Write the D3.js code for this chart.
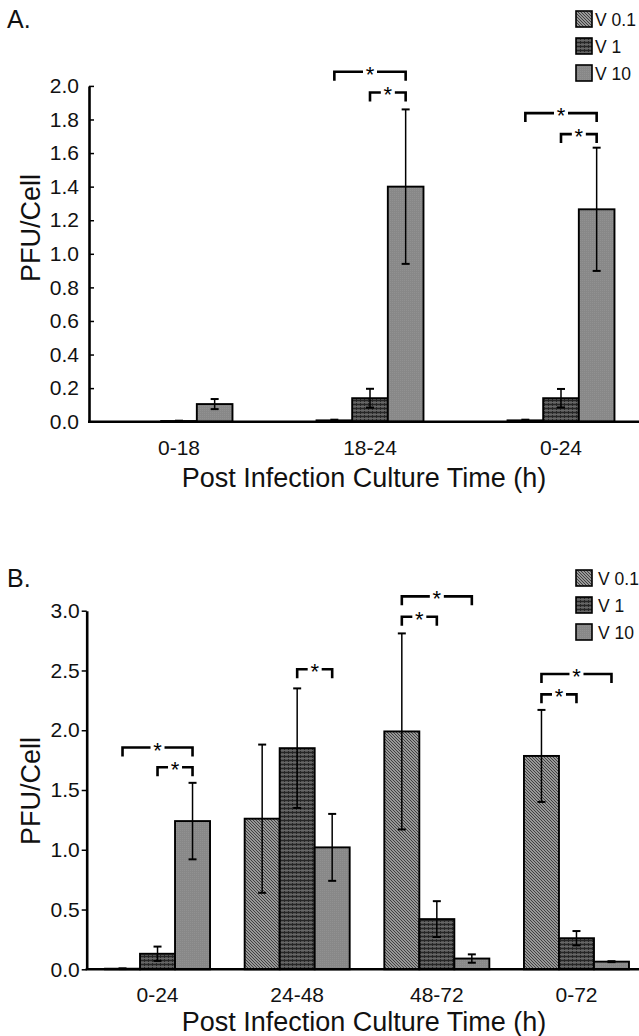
<!DOCTYPE html>
<html>
<head>
<meta charset="utf-8">
<script src="https://cdn.jsdelivr.net/npm/d3@7"></script>
<style>
  body { margin: 0; background: #fff; }
  svg { display: block; font-family: "Liberation Sans", Arial, sans-serif; }
</style>
</head>
<body>
<svg id="chart" width="639" height="1036"></svg>
<script>
// series names (legend)
var seriesNames = ["V 0.1", "V 1", "V 10"];

// panel A
var catsA = ["0-18", "18-24", "0-24"];
var meanA_v01 = [0, 0.008, 0.008];
var meanA_v1 = [0.004, 0.14, 0.14];
var meanA_v10 = [0.105, 1.40, 1.265];
var errA_v01 = [0, 0.004, 0.004];
var errA_v1 = [0.002, 0.056, 0.055];
var errA_v10 = [0.03, 0.46, 0.367];
var ticksA = [0, 0.2, 0.4, 0.6, 0.8, 1.0, 1.2, 1.4, 1.6, 1.8, 2.0];
// significance brackets: category, from series, to series, height (PFU/Cell)
var starsA = [
  ["18-24", 0, 2, 2.084], ["18-24", 1, 2, 1.961],
  ["0-24", 0, 2, 1.838], ["0-24", 1, 2, 1.713]
];

// panel B
var catsB = ["0-24", "24-48", "48-72", "0-72"];
var meanB_v01 = [0.005, 1.26, 1.99, 1.785];
var meanB_v1 = [0.13, 1.85, 0.42, 0.26];
var meanB_v10 = [1.24, 1.02, 0.09, 0.064];
var errB_v01 = [0.003, 0.62, 0.82, 0.385];
var errB_v1 = [0.06, 0.50, 0.15, 0.06];
var errB_v10 = [0.32, 0.28, 0.035, 0.004];
var ticksB = [0, 0.5, 1.0, 1.5, 2.0, 2.5, 3.0];
var starsB = [
  ["0-24", 0, 2, 1.855], ["0-24", 1, 2, 1.69],
  ["24-48", 1, 2, 2.51],
  ["48-72", 0, 2, 3.12], ["48-72", 0, 1, 2.95],
  ["0-72", 0, 2, 2.47], ["0-72", 0, 1, 2.30]
];

var svg = d3.select("#chart");
var defs = svg.append("defs");

// fill patterns
var p1 = defs.append("pattern").attr("id", "pat0")
    .attr("patternUnits", "userSpaceOnUse").attr("width", 3).attr("height", 3);
p1.append("rect").attr("width", 3).attr("height", 3).attr("fill", "#bdbdbd");
p1.append("path").attr("d", "M0,0L3,3M-1,2L1,4M2,-1L4,1")
    .attr("stroke", "#3a3a3a").attr("stroke-width", 1.1);

var p2 = defs.append("pattern").attr("id", "pat1")
    .attr("patternUnits", "userSpaceOnUse").attr("width", 4).attr("height", 4);
p2.append("rect").attr("width", 4).attr("height", 4).attr("fill", "#535353");
p2.append("path").attr("d", "M0,0.5H4M0.5,0V4")
    .attr("stroke", "#262626").attr("stroke-width", 1);
p2.append("path").attr("d", "M0,2.5H4")
    .attr("stroke", "#666").attr("stroke-width", 1);

var p3 = defs.append("pattern").attr("id", "pat2")
    .attr("patternUnits", "userSpaceOnUse").attr("width", 2).attr("height", 2);
p3.append("rect").attr("width", 2).attr("height", 2).attr("fill", "#888");
p3.append("rect").attr("width", 1).attr("height", 1).attr("fill", "#919191");

function drawPanel(cfg) {
  var g = svg.append("g");

  var x0 = d3.scaleBand().domain(cfg.cats).range(cfg.xRange)
      .paddingInner(cfg.pad).paddingOuter(cfg.pad / 2);
  var x1 = d3.scaleBand().domain([0, 1, 2]).range([0, x0.bandwidth()]);
  var y = d3.scaleLinear().domain([0, cfg.yMax]).range([cfg.base, cfg.top]);

  function cx(cat, s) { return x0(cat) + x1(s) + x1.bandwidth() / 2; }

  // bars
  cfg.means.forEach(function(vals, s) {
    g.append("g").selectAll("rect").data(vals).enter().append("rect")
      .attr("x", function(d, i) { return x0(cfg.cats[i]) + x1(s); })
      .attr("y", function(d) { return y(d); })
      .attr("width", x1.bandwidth())
      .attr("height", function(d) { return y(0) - y(d); })
      .attr("fill", "url(#pat" + s + ")")
      .attr("stroke", "#000")
      .attr("stroke-width", 1.9);
  });

  // error bars
  cfg.means.forEach(function(vals, s) {
    var eg = g.append("g").attr("stroke", "#000");
    vals.forEach(function(d, i) {
      var e = cfg.errs[s][i];
      if (e <= 0) return;
      var x = cx(cfg.cats[i], s);
      eg.append("line").attr("x1", x).attr("x2", x)
        .attr("y1", y(d + e)).attr("y2", y(Math.max(d - e, 0)))
        .attr("stroke-width", 1.5);
      [d + e, Math.max(d - e, 0)].forEach(function(v) {
        eg.append("line").attr("x1", x - 4).attr("x2", x + 4)
          .attr("y1", y(v)).attr("y2", y(v)).attr("stroke-width", 2);
      });
    });
  });

  // y axis
  var yAxis = d3.axisLeft(y).tickValues(cfg.ticks)
      .tickFormat(d3.format(".1f"))
      .tickSizeInner(cfg.tickIn).tickSizeOuter(0).tickPadding(cfg.tickPad);
  var ya = g.append("g").attr("transform", "translate(" + cfg.axisX + ",0)").call(yAxis);
  ya.select(".domain").attr("stroke-width", 2.6);
  ya.selectAll(".tick line").attr("stroke-width", 1.5);
  ya.selectAll("text").attr("font-size", 21).attr("fill", "#111")
    .attr("font-family", "Liberation Sans, Arial, sans-serif");

  // x axis line
  g.append("line").attr("x1", cfg.axisX - 1).attr("x2", 639)
    .attr("y1", y(0)).attr("y2", y(0))
    .attr("stroke", "#000").attr("stroke-width", 2.6);

  // category labels
  var xa = g.append("g").attr("transform", "translate(0," + y(0) + ")")
    .call(d3.axisBottom(x0).tickSize(0).tickPadding(cfg.catPad));
  xa.select(".domain").remove();
  xa.selectAll("text").attr("font-size", 21).attr("fill", "#111")
    .attr("font-family", "Liberation Sans, Arial, sans-serif");

  // significance brackets
  cfg.stars.forEach(function(b) {
    var xa1 = cx(b[0], b[1]), xb = cx(b[0], b[2]), yy = y(b[3]);
    var mid = (xa1 + xb) / 2;
    g.append("path")
      .attr("d", "M" + xa1 + "," + (yy + 9) + "V" + yy + "H" + (mid - 7))
      .attr("fill", "none").attr("stroke", "#000").attr("stroke-width", 2.6);
    g.append("path")
      .attr("d", "M" + (mid + 7) + "," + yy + "H" + xb + "V" + (yy + 9))
      .attr("fill", "none").attr("stroke", "#000").attr("stroke-width", 2.6);
    g.append("text").attr("x", mid).attr("y", yy + 10)
      .attr("text-anchor", "middle").attr("font-size", 22).attr("fill", "#000")
      .text("*");
  });

  // axis titles
  g.append("text").attr("x", 364).attr("y", cfg.xTitleY)
    .attr("text-anchor", "middle").attr("font-size", 27).attr("fill", "#111")
    .text("Post Infection Culture Time (h)");
  g.append("text")
    .attr("transform", "translate(40," + cfg.yTitleY + ") rotate(-90)")
    .attr("text-anchor", "middle").attr("font-size", 27).attr("fill", "#111")
    .text("PFU/Cell");

  // panel letter
  g.append("text").attr("x", 7).attr("y", cfg.letterY)
    .attr("font-size", 25).attr("fill", "#111").text(cfg.letter);

  // legend
  var lg = g.append("g").selectAll("g").data(seriesNames).enter().append("g")
    .attr("transform", function(d, i) {
      return "translate(576," + (cfg.legY + i * 27) + ")";
    });
  lg.append("rect").attr("x", 0).attr("y", -8).attr("width", 16).attr("height", 16)
    .attr("fill", function(d, i) { return "url(#pat" + i + ")"; })
    .attr("stroke", "#000").attr("stroke-width", 1.6);
  lg.append("text").attr("x", cfg.legTextX).attr("y", 6.5)
    .attr("font-size", 17.5).attr("fill", "#111").text(function(d) { return d; });
}

drawPanel({
  cats: catsA,
  means: [meanA_v01, meanA_v1, meanA_v10],
  errs: [errA_v01, errA_v1, errA_v10],
  ticks: ticksA, yMax: 2.0, stars: starsA,
  xRange: [83.5, 656.5], pad: 0.44,
  base: 421.7, top: 85.9, axisX: 89,
  tickIn: -5, tickPad: 10, catPad: 18,
  xTitleY: 487, yTitleY: 228,
  letter: "A.", letterY: 28,
  legY: 19, legTextX: 19
});

drawPanel({
  cats: catsB,
  means: [meanB_v01, meanB_v1, meanB_v10],
  errs: [errB_v01, errB_v1, errB_v10],
  ticks: ticksB, yMax: 3.0, stars: starsB,
  xRange: [87.7, 646.3], pad: 0.248,
  base: 969.3, top: 610.7, axisX: 86.7,
  tickIn: 5, tickPad: 2, catPad: 18,
  xTitleY: 1031, yTitleY: 791,
  letter: "B.", letterY: 587,
  legY: 578, legTextX: 22
});
</script>
</body>
</html>
